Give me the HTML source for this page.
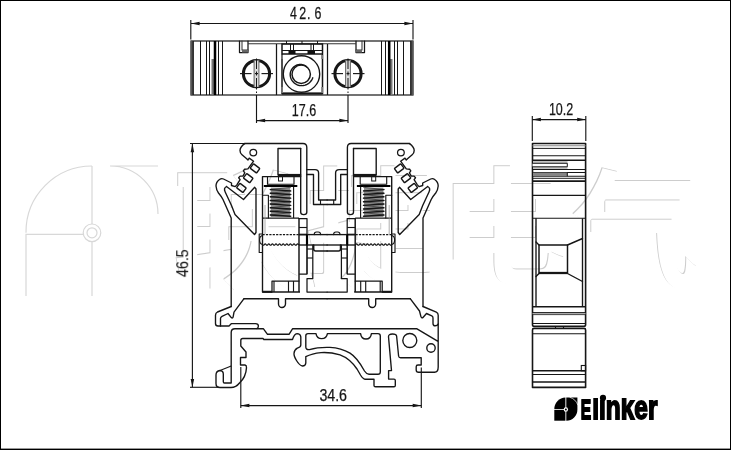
<!DOCTYPE html>
<html lang="zh"><head><meta charset="utf-8"><title>Elinker terminal block drawing</title>
<style>html,body{margin:0;padding:0;background:#fff}svg{display:block}</style></head>
<body><svg width="731" height="450" viewBox="0 0 731 450">
<rect width="731" height="450" fill="#fff"/>
<g fill="none" stroke="#d8d8d8" stroke-width="1.2">
<path d="M26,232.8 A66,66 0 0 1 92,166"/>
<path d="M92,166 V224 M92,241.6 V296"/>
<path d="M26,296 V234.3 H83.2"/>
<circle cx="92" cy="232.8" r="8.8"/><circle cx="92" cy="232.8" r="5"/>
<path d="M110,166 H158 M110,166 A48,48 0 0 1 158,214"/>
</g>
<g font-family="'Liberation Sans','Noto Sans CJK SC',sans-serif" font-size="128" font-weight="700" fill="#cdcdcd" transform="translate(0,0)">
<text x="172 305 438.5 571" y="277 275 274 277">联捷电气</text>
</g>
<g font-family="'Liberation Sans','Noto Sans CJK SC',sans-serif" font-size="128" font-weight="700" fill="#ffffff" transform="translate(1.1,1.1)">
<text x="172 305 438.5 571" y="277 275 274 277">联捷电气</text>
</g>
<rect x="191" y="41" width="222" height="54" fill="none" stroke="#161616" stroke-width="1.2" />
<rect x="191" y="41" width="2.4" height="54" fill="#555" stroke="#161616" stroke-width="0" />
<rect x="410.6" y="41" width="2.4" height="54" fill="#555" stroke="#161616" stroke-width="0" />
<line x1="193.2" y1="41" x2="193.2" y2="95" stroke="#161616" stroke-width="1.25" />
<line x1="410.8" y1="41" x2="410.8" y2="95" stroke="#161616" stroke-width="1.25" />
<line x1="200.5" y1="41" x2="200.5" y2="95" stroke="#161616" stroke-width="1.03" />
<line x1="403.5" y1="41" x2="403.5" y2="95" stroke="#161616" stroke-width="1.03" />
<line x1="206.5" y1="41" x2="206.5" y2="95" stroke="#161616" stroke-width="1.03" />
<line x1="397.5" y1="41" x2="397.5" y2="95" stroke="#161616" stroke-width="1.03" />
<line x1="209.5" y1="41" x2="209.5" y2="95" stroke="#161616" stroke-width="1.03" />
<line x1="394.5" y1="41" x2="394.5" y2="95" stroke="#161616" stroke-width="1.03" />
<line x1="218.5" y1="41" x2="218.5" y2="95" stroke="#161616" stroke-width="1.03" />
<line x1="385.5" y1="41" x2="385.5" y2="95" stroke="#161616" stroke-width="1.03" />
<line x1="222.5" y1="41" x2="222.5" y2="95" stroke="#161616" stroke-width="1.03" />
<line x1="381.5" y1="41" x2="381.5" y2="95" stroke="#161616" stroke-width="1.03" />
<rect x="211.5" y="59" width="2.7" height="36" fill="#777" stroke="#161616" stroke-width="0" />
<rect x="389.6" y="59" width="2.9" height="36" fill="#777" stroke="#161616" stroke-width="0" />
<line x1="215" y1="41" x2="215" y2="95" stroke="#000" stroke-width="2.51" />
<line x1="389.2" y1="41" x2="389.2" y2="95" stroke="#000" stroke-width="2.51" />
<path d="M239.5,41 V52.5 H248.0 V41" fill="none" stroke="#161616" stroke-width="1.25" stroke-linejoin="round" stroke-linecap="round" />
<path d="M242.0,41 V50 H248.0" fill="none" stroke="#333" stroke-width="1.03" stroke-linejoin="round" stroke-linecap="round" />
<rect x="242.0" y="50" width="6.0" height="2.5" fill="#666" stroke="#161616" stroke-width="0" />
<path d="M364.5,41 V52.5 H356.0 V41" fill="none" stroke="#161616" stroke-width="1.25" stroke-linejoin="round" stroke-linecap="round" />
<path d="M362.0,41 V50 H356.0" fill="none" stroke="#333" stroke-width="1.03" stroke-linejoin="round" stroke-linecap="round" />
<rect x="356.0" y="50" width="6.0" height="2.5" fill="#666" stroke="#161616" stroke-width="0" />
<line x1="248" y1="43.8" x2="356" y2="43.8" stroke="#333" stroke-width="1.03" />
<line x1="286.5" y1="41" x2="286.5" y2="44" stroke="#161616" stroke-width="1.03" />
<line x1="302" y1="41" x2="302" y2="44" stroke="#161616" stroke-width="1.03" />
<line x1="317.5" y1="41" x2="317.5" y2="44" stroke="#161616" stroke-width="1.03" />
<line x1="276.5" y1="44" x2="276.5" y2="95" stroke="#161616" stroke-width="1.25" />
<line x1="327.5" y1="44" x2="327.5" y2="95" stroke="#161616" stroke-width="1.25" />
<rect x="282" y="44" width="40.5" height="49.5" fill="none" stroke="#161616" stroke-width="1.5" />
<line x1="290.5" y1="44" x2="290.5" y2="50.5" stroke="#161616" stroke-width="1.03" />
<line x1="293.5" y1="44" x2="293.5" y2="50.5" stroke="#161616" stroke-width="1.03" />
<line x1="311" y1="44" x2="311" y2="50.5" stroke="#161616" stroke-width="1.03" />
<line x1="313.5" y1="44" x2="313.5" y2="50.5" stroke="#161616" stroke-width="1.03" />
<line x1="282" y1="50.5" x2="322.5" y2="50.5" stroke="#161616" stroke-width="1.03" />
<line x1="282" y1="54" x2="322.5" y2="54" stroke="#161616" stroke-width="1.71" />
<rect x="288.5" y="50.5" width="7" height="3.5" fill="#111" stroke="#161616" stroke-width="0" />
<rect x="307.5" y="50.5" width="7.5" height="3.5" fill="#111" stroke="#161616" stroke-width="0" />
<circle cx="301.5" cy="74" r="18.2" fill="none" stroke="#161616" stroke-width="1.37"/>
<circle cx="301.2" cy="74.3" r="9.2" fill="none" stroke="#161616" stroke-width="1.48"/>
<path d="M306.53,66.68 L305.91,66.20 L305.25,65.78 L304.54,65.41 L303.81,65.09 L303.04,64.84 L302.25,64.65 L301.44,64.53 L300.62,64.48 L299.79,64.49 L298.96,64.58 L298.13,64.74 L297.31,64.97 L296.52,65.26 L295.74,65.63 L294.99,66.06 L294.28,66.56 L293.61,67.12 L292.98,67.74 L292.41,68.41 L291.89,69.14 L291.43,69.91 L291.03,70.72 L290.70,71.56 L290.44,72.44 L290.26,73.34 L290.20,74.26 L290.23,75.18 L290.34,76.10 L290.52,77.00 L290.78,77.89 L291.11,78.75 L291.51,79.59 L291.97,80.39 L292.50,81.15 L293.09,81.86 L293.74,82.53 L294.44,83.14 L295.19,83.69 L295.99,84.18 L296.82,84.61 L297.69,84.97 L298.59,85.25 L299.51,85.46 L300.45,85.60 L301.40,85.65 L302.35,85.63 L303.30,85.54 L304.25,85.36 L305.18,85.11 L306.08,84.78 L306.97,84.37 L307.82,83.89 L308.63,83.34 L309.39,82.73 L310.11,82.05 L310.77,81.31 L311.37,80.51 L311.91,79.66 L312.38,78.77 L312.77,77.84" fill="none" stroke="#161616" stroke-width="1.42" stroke-linejoin="round" stroke-linecap="round" />
<line x1="282" y1="93.4" x2="322.5" y2="93.4" stroke="#161616" stroke-width="2.05" />
<rect x="281.2" y="55" width="1.8" height="4" fill="#777" stroke="#161616" stroke-width="0" />
<rect x="281.2" y="87" width="1.8" height="6" fill="#777" stroke="#161616" stroke-width="0" />
<rect x="321.3" y="55" width="1.8" height="4" fill="#777" stroke="#161616" stroke-width="0" />
<rect x="321.3" y="87" width="1.8" height="6" fill="#777" stroke="#161616" stroke-width="0" />
<circle cx="256.5" cy="73.7" r="13.1" fill="none" stroke="#161616" stroke-width="3.02"/>
<rect x="254.1" y="60.5" width="4.8" height="26.4" fill="#dcdcdc" stroke="#161616" stroke-width="0" />
<line x1="254.1" y1="60" x2="254.1" y2="87.2" stroke="#666" stroke-width="1.03" />
<line x1="258.9" y1="60" x2="258.9" y2="87.2" stroke="#666" stroke-width="1.03" />
<line x1="240.0" y1="73.6" x2="251.5" y2="73.6" stroke="#161616" stroke-width="1.14" />
<line x1="261.5" y1="73.6" x2="273.0" y2="73.6" stroke="#161616" stroke-width="1.14" />
<line x1="255.0" y1="73.6" x2="258.0" y2="73.6" stroke="#161616" stroke-width="1.14" />
<line x1="256.5" y1="58.5" x2="256.5" y2="69" stroke="#161616" stroke-width="1.03" />
<line x1="256.5" y1="71.5" x2="256.5" y2="75.5" stroke="#161616" stroke-width="1.03" />
<line x1="256.5" y1="78" x2="256.5" y2="89.5" stroke="#161616" stroke-width="1.03" />
<line x1="256.5" y1="91.5" x2="256.5" y2="93" stroke="#161616" stroke-width="1.03" />
<line x1="256.5" y1="95" x2="256.5" y2="123" stroke="#161616" stroke-width="1.14" />
<circle cx="348" cy="73.7" r="13.1" fill="none" stroke="#161616" stroke-width="3.02"/>
<rect x="345.6" y="60.5" width="4.8" height="26.4" fill="#dcdcdc" stroke="#161616" stroke-width="0" />
<line x1="345.6" y1="60" x2="345.6" y2="87.2" stroke="#666" stroke-width="1.03" />
<line x1="350.4" y1="60" x2="350.4" y2="87.2" stroke="#666" stroke-width="1.03" />
<line x1="331.5" y1="73.6" x2="343" y2="73.6" stroke="#161616" stroke-width="1.14" />
<line x1="353" y1="73.6" x2="364.5" y2="73.6" stroke="#161616" stroke-width="1.14" />
<line x1="346.5" y1="73.6" x2="349.5" y2="73.6" stroke="#161616" stroke-width="1.14" />
<line x1="348" y1="58.5" x2="348" y2="69" stroke="#161616" stroke-width="1.03" />
<line x1="348" y1="71.5" x2="348" y2="75.5" stroke="#161616" stroke-width="1.03" />
<line x1="348" y1="78" x2="348" y2="89.5" stroke="#161616" stroke-width="1.03" />
<line x1="348" y1="91.5" x2="348" y2="93" stroke="#161616" stroke-width="1.03" />
<line x1="348" y1="95" x2="348" y2="123" stroke="#161616" stroke-width="1.14" />
<line x1="190.8" y1="20" x2="190.8" y2="39.5" stroke="#161616" stroke-width="1.14" />
<line x1="413" y1="20" x2="413" y2="39.5" stroke="#161616" stroke-width="1.14" />
<line x1="191" y1="23.5" x2="413" y2="23.5" stroke="#161616" stroke-width="1.14" />
<polygon points="191,23.5 199.6,21.75 199.6,25.25" fill="#161616"/>
<polygon points="413,23.5 404.4,25.25 404.4,21.75" fill="#161616"/>
<line x1="256.5" y1="120.6" x2="348" y2="120.6" stroke="#161616" stroke-width="1.14" />
<polygon points="256.5,120.6 265.1,118.85 265.1,122.35" fill="#161616"/>
<polygon points="348,120.6 339.4,122.35 339.4,118.85" fill="#161616"/>
<line x1="192.4" y1="144" x2="192.4" y2="387.3" stroke="#161616" stroke-width="1.14" />
<polygon points="192.4,143.6 194.15,152.2 190.65,152.2" fill="#161616"/>
<polygon points="192.4,387.5 190.65,378.9 194.15,378.9" fill="#161616"/>
<line x1="190" y1="143.5" x2="245" y2="143.5" stroke="#161616" stroke-width="1.14" />
<line x1="190" y1="387.3" x2="219" y2="387.3" stroke="#161616" stroke-width="1.14" />
<line x1="240.8" y1="367" x2="240.8" y2="408" stroke="#161616" stroke-width="1.14" />
<line x1="421.3" y1="367.5" x2="421.3" y2="408" stroke="#161616" stroke-width="1.14" />
<line x1="240.8" y1="405.6" x2="421.3" y2="405.6" stroke="#161616" stroke-width="1.14" />
<polygon points="240.8,405.6 249.4,403.85 249.4,407.35" fill="#161616"/>
<polygon points="421.3,405.6 412.7,407.35 412.7,403.85" fill="#161616"/>
<line x1="532.3" y1="116" x2="532.3" y2="141" stroke="#161616" stroke-width="1.14" />
<line x1="585.8" y1="116" x2="585.8" y2="141" stroke="#161616" stroke-width="1.14" />
<line x1="532.3" y1="119.6" x2="585.8" y2="119.6" stroke="#161616" stroke-width="1.14" />
<polygon points="532.3,119.6 540.9,117.85 540.9,121.35" fill="#161616"/>
<polygon points="585.8,119.6 577.1999999999999,121.35 577.1999999999999,117.85" fill="#161616"/>
<g font-family="'Liberation Sans',sans-serif" fill="#161616" stroke="#161616" stroke-width="0.25" opacity="0.999">
<text transform="translate(289.9,18.5) scale(0.795,1)" x="0.00 11.70 21.51 30.94" y="0" font-size="15.6">42.6</text>
<text x="291.8" y="115.5" font-size="16" textLength="24.4" lengthAdjust="spacingAndGlyphs" >17.6</text>
<text x="319.4" y="400.5" font-size="16" textLength="27.6" lengthAdjust="spacingAndGlyphs" >34.6</text>
<text x="548.9" y="114.7" font-size="16" textLength="24.3" lengthAdjust="spacingAndGlyphs" >10.2</text>
<g transform="translate(188.2,277.1) rotate(-90)" stroke-width="0.1"><text x="0" y="0" font-size="16.4" textLength="27.8" lengthAdjust="spacingAndGlyphs" >46.5</text></g>
</g>
<g id="hf"><path d="M244.5,143.5 H303 Q306.8,143.5 306.8,147.5 V212.3 Q306.8,214.6 303.8,214.6 Q300.7,214.6 300.7,212.3 V148.5" fill="none" stroke="#161616" stroke-width="1.37" stroke-linejoin="round" stroke-linecap="round" />
<path d="M306.8,169.6 H315 Q318.6,169.6 318.6,173 V200 H327.1" fill="none" stroke="#161616" stroke-width="1.37" stroke-linejoin="round" stroke-linecap="round" />
<path d="M306.8,174.5 H313.5 V204.5 H327.1" fill="none" stroke="#161616" stroke-width="1.37" stroke-linejoin="round" stroke-linecap="round" />
<line x1="320.5" y1="200" x2="320.5" y2="204.5" stroke="#161616" stroke-width="1.14" />
<path d="M300.7,148.5 H278 V175 H300.7" fill="none" stroke="#161616" stroke-width="1.37" stroke-linejoin="round" stroke-linecap="round" />
<line x1="278" y1="175" x2="300.7" y2="175" stroke="#161616" stroke-width="2.17" />
<path d="M300.7,176.6 H262.5 V292" fill="none" stroke="#161616" stroke-width="1.37" stroke-linejoin="round" stroke-linecap="round" />
<path d="M267.5,176.6 V184.2 H294 V176.6" fill="none" stroke="#161616" stroke-width="1.14" stroke-linejoin="round" stroke-linecap="round" />
<path d="M262.5,195.3 H268.4 V218" fill="none" stroke="#161616" stroke-width="1.14" stroke-linejoin="round" stroke-linecap="round" />
<rect x="278.5" y="176.6" width="4" height="4.4" fill="none" stroke="#161616" stroke-width="1.0" />
<line x1="293.6" y1="187" x2="293.6" y2="218" stroke="#161616" stroke-width="1.14" />
<line x1="262.5" y1="218" x2="299" y2="218" stroke="#161616" stroke-width="1.25" />
<line x1="265" y1="205" x2="265" y2="234" stroke="#999" stroke-width="0.8" />
<line x1="263.8" y1="186" x2="297.3" y2="186" stroke="#000" stroke-width="1.99" />
<rect x="270.8" y="187.6" width="19.4" height="30.2" fill="#8c8c8c" stroke="#161616" stroke-width="0" />
<line x1="290.6" y1="187.30" x2="270.4" y2="189.60" stroke="#4a4a4a" stroke-width="0.9" stroke-linecap="round"/>
<line x1="290.6" y1="190.92" x2="270.4" y2="193.22" stroke="#4a4a4a" stroke-width="0.9" stroke-linecap="round"/>
<line x1="290.6" y1="194.54" x2="270.4" y2="196.84" stroke="#4a4a4a" stroke-width="0.9" stroke-linecap="round"/>
<line x1="290.6" y1="198.16" x2="270.4" y2="200.46" stroke="#4a4a4a" stroke-width="0.9" stroke-linecap="round"/>
<line x1="290.6" y1="201.78" x2="270.4" y2="204.08" stroke="#4a4a4a" stroke-width="0.9" stroke-linecap="round"/>
<line x1="290.6" y1="205.40" x2="270.4" y2="207.70" stroke="#4a4a4a" stroke-width="0.9" stroke-linecap="round"/>
<line x1="290.6" y1="209.02" x2="270.4" y2="211.32" stroke="#4a4a4a" stroke-width="0.9" stroke-linecap="round"/>
<line x1="290.6" y1="212.64" x2="270.4" y2="214.94" stroke="#4a4a4a" stroke-width="0.9" stroke-linecap="round"/>
<line x1="270.3" y1="189.60" x2="290.7" y2="190.90" stroke="#161616" stroke-width="1.45" stroke-linecap="round"/>
<line x1="270.3" y1="193.22" x2="290.7" y2="194.52" stroke="#161616" stroke-width="1.45" stroke-linecap="round"/>
<line x1="270.3" y1="196.84" x2="290.7" y2="198.14" stroke="#161616" stroke-width="1.45" stroke-linecap="round"/>
<line x1="270.3" y1="200.46" x2="290.7" y2="201.76" stroke="#161616" stroke-width="1.45" stroke-linecap="round"/>
<line x1="270.3" y1="204.08" x2="290.7" y2="205.38" stroke="#161616" stroke-width="1.45" stroke-linecap="round"/>
<line x1="270.3" y1="207.70" x2="290.7" y2="209.00" stroke="#161616" stroke-width="1.45" stroke-linecap="round"/>
<line x1="270.3" y1="211.32" x2="290.7" y2="212.62" stroke="#161616" stroke-width="1.45" stroke-linecap="round"/>
<line x1="270.3" y1="214.94" x2="290.7" y2="216.24" stroke="#161616" stroke-width="1.45" stroke-linecap="round"/>
<line x1="299" y1="218" x2="299" y2="292" stroke="#161616" stroke-width="1.48" />
<path d="M299,218.6 H307 V274 H299.5" fill="none" stroke="#161616" stroke-width="1.25" stroke-linejoin="round" stroke-linecap="round" />
<line x1="299" y1="227.5" x2="307" y2="227.5" stroke="#161616" stroke-width="1.14" />
<line x1="299" y1="234.6" x2="307" y2="234.6" stroke="#161616" stroke-width="1.82" />
<line x1="299" y1="245" x2="307" y2="245" stroke="#161616" stroke-width="1.37" />
<line x1="307" y1="234" x2="307" y2="245.5" stroke="#000" stroke-width="2.17" />
<line x1="262.5" y1="234.6" x2="299" y2="234.6" stroke="#161616" stroke-width="1.14" stroke-dasharray="2.2 1.2"/>
<path d="M262.5,244.6 q0.9,1.4 1.8,0 t1.8,0 q0.9,1.4 1.8,0 t1.8,0 q0.9,1.4 1.8,0 t1.8,0 q0.9,1.4 1.8,0 t1.8,0 q0.9,1.4 1.8,0 t1.8,0 q0.9,1.4 1.8,0 t1.8,0 q0.9,1.4 1.8,0 t1.8,0 q0.9,1.4 1.8,0 t1.8,0 q0.9,1.4 1.8,0 t1.8,0 q0.9,1.4 1.8,0 t1.8,0 " fill="none" stroke="#161616" stroke-width="1.08" stroke-linejoin="round" stroke-linecap="round" />
<path d="M262.5,234 H259.2 V252.5 H262.5" fill="none" stroke="#161616" stroke-width="1.14" stroke-linejoin="round" stroke-linecap="round" />
<path d="M262.5,235.5 Q259.6,236 259.6,240 Q259.6,244 262.5,244.4" fill="none" stroke="#161616" stroke-width="1.14" stroke-linejoin="round" stroke-linecap="round" />
<line x1="307" y1="234.6" x2="327.6" y2="234.6" stroke="#161616" stroke-width="1.37" />
<line x1="307" y1="245" x2="327.6" y2="245" stroke="#161616" stroke-width="1.37" />
<path d="M314.2,234.6 Q314.2,232 316.5,232 H318.3 Q320.6,232 320.6,234.6" fill="none" stroke="#161616" stroke-width="1.14" stroke-linejoin="round" stroke-linecap="round" />
<path d="M313.7,245 V249 Q313.7,251 315.7,251 H327.1" fill="none" stroke="#161616" stroke-width="1.48" stroke-linejoin="round" stroke-linecap="round" />
<path d="M312.8,245 V278.5 H307 V292 H327.1" fill="none" stroke="#161616" stroke-width="1.25" stroke-linejoin="round" stroke-linecap="round" />
<line x1="307" y1="245" x2="307" y2="274" stroke="#161616" stroke-width="1.03" />
<line x1="307" y1="249" x2="312.8" y2="249" stroke="#161616" stroke-width="1.14" />
<line x1="307" y1="258" x2="312.8" y2="258" stroke="#161616" stroke-width="1.14" />
<line x1="262.5" y1="292" x2="300" y2="292" stroke="#161616" stroke-width="1.37" />
<line x1="262.5" y1="291.8" x2="272" y2="291.8" stroke="#161616" stroke-width="2.05" />
<path d="M272,292 V281 H299" fill="none" stroke="#161616" stroke-width="1.25" stroke-linejoin="round" stroke-linecap="round" />
<line x1="274" y1="281" x2="274" y2="292" stroke="#161616" stroke-width="1.14" />
<line x1="288.5" y1="281" x2="288.5" y2="292" stroke="#161616" stroke-width="1.14" />
<line x1="293.5" y1="281" x2="293.5" y2="292" stroke="#161616" stroke-width="1.14" />
<path d="M244.7,143.6 C242,145.5 240,148 240,150.6 C240,152.8 240.8,153.8 242,154.8 L246.7,158.7 L248,160 L249.2,158.1 L253.6,161.2 L247.9,168.9 L244.6,169.2 L243.4,170.8 L244.8,172.8 L242.9,176.1 L240.1,176.1 L238.7,177.8 L240.1,179.7 L237,184.6 L235.2,186.6 L231.5,185.5 V183 L223.5,179 Q221.5,178 219.5,179.5 Q216,182 216,186 Q216.3,190 218.5,193 Q221.5,196.5 223,199.5 L231.2,218 V306.5" fill="none" stroke="#161616" stroke-width="1.37" stroke-linejoin="round" stroke-linecap="round" />
<circle cx="253.3" cy="152.6" r="3.35" fill="none" stroke="#161616" stroke-width="1.25"/>
<rect x="-4.00" y="-2.80" width="8" height="5.6" rx="0.7" transform="translate(255.00,168.40) rotate(37)" fill="none" stroke="#161616" stroke-width="1.4"/>
<rect x="-4.00" y="-2.80" width="8" height="5.6" rx="0.7" transform="translate(248.20,178.15) rotate(37)" fill="none" stroke="#161616" stroke-width="1.4"/>
<rect x="-4.00" y="-2.80" width="8" height="5.6" rx="0.7" transform="translate(241.40,187.90) rotate(37)" fill="none" stroke="#161616" stroke-width="1.4"/>
<path d="M226.5,186.5 L243.5,199.5 L254.7,187.3 L256,189 V232.5 L254.5,234.5 L235,214.5 L231.5,205.5 L225.2,192 Q223.3,188.2 226.5,186.5" fill="none" stroke="#161616" stroke-width="1.37" stroke-linejoin="round" stroke-linecap="round" />
<path d="M244,298.7 H278.5 V304 A3.5,3.5 0 0 0 285.5,304 V298.7 H327.1" fill="none" stroke="#161616" stroke-width="1.37" stroke-linejoin="round" stroke-linecap="round" /></g>
<use href="#hf" transform="translate(654.2,0) scale(-1,1)"/>
<path d="M231.2,306.5 L217.5,312 Q215.5,313 215.5,315.2 V323.5 Q215.5,326 218,326 H229 L231.5,323.6 H255.5 Q258.4,323.6 258.4,326 Q258.4,328 256.8,328.6" fill="none" stroke="#161616" stroke-width="1.37" stroke-linejoin="round" stroke-linecap="round" />
<path d="M220.5,326 V318.6 Q220.5,317 222,316.3 L228,313.5 L231.3,317.6 Q232.6,318.8 233.2,316.6 L234,312.2 L244,298.7" fill="none" stroke="#161616" stroke-width="1.37" stroke-linejoin="round" stroke-linecap="round" />
<path d="M423,306.5 L436.3,312.1 Q438.2,313 438.2,315.2 V367 Q438.2,372.2 434.5,372.2 H418.6 Q416.2,372.2 416.2,370 V366.8 Q416.2,365 418,365 H421.2 V357.8 H400.6 Q398.8,357.8 398.6,356 L396.6,336 Q396.3,334 392.5,334 Q388.3,334 388.5,336.8 L391.5,370.6 H388.6 V379.1 H394 Q395.3,379.1 395.3,380.6 V385.4 Q395.3,386.8 394,386.8 H375.5 Q374,386.8 374,385.4 V379.2 H365 Q363,379 360.5,375 L357,369 Q350,358.5 340,354.8 Q330,352 321,352.6 Q312,353.5 305.8,356.6 V363 Q305.6,366 302.5,366 Q299.5,365.5 296.5,360.5 Q293.8,356 294,353.5 Q294.2,350 297.3,348.2 Q300.8,347 300.8,345 V336.8 Q300.3,333.6 297,333.6 Q294.2,334 292.5,339.5 H263.8 L263,338.5 H242.8 Q240.8,338.5 240.8,340.5 V346 L246,352 V357.5 H240.5 V365 H245 Q246.6,365.3 246.5,367.6 Q246,377 239.5,383 Q236,387.5 231,387.5 H220 Q216,387.5 216,383.5 V375 Q216,371 220,370.5 Q223.3,370.8 223.3,374 V381.8 Q223.3,383 224.5,383 H231.2 V332.6 Q231.2,328.8 235,328.8 H263.5 L267.5,334.3 H289 L292.5,328.8 H417 L438,341.3" fill="none" stroke="#161616" stroke-width="1.37" stroke-linejoin="round" stroke-linecap="round" />
<line x1="220" y1="370.5" x2="231.2" y2="366" stroke="#161616" stroke-width="1.25" />
<path d="M410.2,298.7 L419.5,311 L420.8,316.2 Q421.8,318.8 423.2,317.2 L426.5,313.5 L431.8,315.8 Q433,316.4 433,318 V323.4 Q433,325.8 435.2,325.8 Q437.4,325.8 438.2,324" fill="none" stroke="#161616" stroke-width="1.37" stroke-linejoin="round" stroke-linecap="round" />
<path d="M308,333.6 H316 Q316.8,338.6 321.6,338.6 Q326.6,338.6 327.4,333.6 H360.6 Q361.2,339 366,339 Q370.8,339 371.4,333.6 H378 Q380.3,333.6 380.3,336 V372 Q380.3,374.2 378,374.2 H369 Q366.3,374 364.5,371 Q357,357.5 350,353.2 Q341,348 330,347.4 Q318,347 309.5,349.6 Q305.8,350 305.8,347 V335.8 Q305.8,333.6 308,333.6 Z" fill="none" stroke="#161616" stroke-width="1.37" stroke-linejoin="round" stroke-linecap="round" />
<circle cx="409.8" cy="340.5" r="7" fill="none" stroke="#161616" stroke-width="1.37"/>
<circle cx="431" cy="348" r="4.2" fill="none" stroke="#161616" stroke-width="1.37"/>
<path d="M532.5,143.5 H585.6 V324.5 Q585.6,326.3 584,326.3 H534 Q532.5,326.3 532.5,324.5 Z" fill="none" stroke="#161616" stroke-width="1.6" stroke-linejoin="round" stroke-linecap="round" />
<path d="M534,328.4 H584 Q585.6,328.4 585.6,330 V387.4 H532.5 V330 Q532.5,328.4 534,328.4 Z" fill="none" stroke="#161616" stroke-width="1.6" stroke-linejoin="round" stroke-linecap="round" />
<line x1="555.5" y1="326.3" x2="555.5" y2="328.4" stroke="#161616" stroke-width="1.14" />
<line x1="563.5" y1="326.3" x2="563.5" y2="328.4" stroke="#161616" stroke-width="1.14" />
<line x1="532.5" y1="145.7" x2="585.6" y2="145.7" stroke="#888" stroke-width="1.03" />
<rect x="533" y="160.8" width="34.5" height="8.4" fill="#c4c4c4" stroke="#161616" stroke-width="0" />
<line x1="532.5" y1="148.4" x2="585.6" y2="148.4" stroke="#161616" stroke-width="0.97" />
<line x1="532.5" y1="155.8" x2="585.6" y2="155.8" stroke="#161616" stroke-width="1.14" />
<line x1="532.5" y1="160.2" x2="585.6" y2="160.2" stroke="#161616" stroke-width="1.54" />
<line x1="532.5" y1="169.4" x2="585.6" y2="169.4" stroke="#161616" stroke-width="1.03" />
<line x1="532.5" y1="172.4" x2="585.6" y2="172.4" stroke="#161616" stroke-width="1.03" />
<line x1="532.5" y1="176.3" x2="585.6" y2="176.3" stroke="#161616" stroke-width="1.03" />
<line x1="532.5" y1="178.3" x2="585.6" y2="178.3" stroke="#161616" stroke-width="0.97" />
<line x1="532.5" y1="181.1" x2="585.6" y2="181.1" stroke="#161616" stroke-width="1.6" />
<line x1="532.5" y1="195.4" x2="585.6" y2="195.4" stroke="#161616" stroke-width="1.08" />
<line x1="532.5" y1="218.3" x2="585.6" y2="218.3" stroke="#161616" stroke-width="1.14" />
<line x1="532.5" y1="306.8" x2="585.6" y2="306.8" stroke="#161616" stroke-width="1.37" />
<line x1="532.5" y1="312.5" x2="585.6" y2="312.5" stroke="#161616" stroke-width="0.91" />
<line x1="532.5" y1="314.6" x2="585.6" y2="314.6" stroke="#161616" stroke-width="0.91" />
<line x1="532.5" y1="323.5" x2="585.6" y2="323.5" stroke="#161616" stroke-width="1.08" />
<line x1="532.5" y1="333.8" x2="585.6" y2="333.8" stroke="#161616" stroke-width="1.08" />
<line x1="532.5" y1="370.8" x2="585.6" y2="370.8" stroke="#161616" stroke-width="1.37" />
<line x1="532.5" y1="374.5" x2="585.6" y2="374.5" stroke="#161616" stroke-width="1.03" />
<line x1="532.5" y1="382" x2="585.6" y2="382" stroke="#161616" stroke-width="1.37" />
<rect x="532.5" y="313" width="53" height="1.2" fill="#aaa" stroke="#161616" stroke-width="0" />
<path d="M532.5,163.3 H567.3 V166.8 H532.5" fill="#fff" stroke="#161616" stroke-width="0.97" stroke-linejoin="round" stroke-linecap="round" />
<rect x="533" y="172.6" width="34.3" height="3.5" fill="#858585" stroke="#161616" stroke-width="0" />
<line x1="567.3" y1="172.4" x2="567.3" y2="176.3" stroke="#161616" stroke-width="1.03" />
<line x1="536" y1="218.3" x2="536" y2="306.8" stroke="#161616" stroke-width="1.37" />
<line x1="582.5" y1="218.3" x2="582.5" y2="306.8" stroke="#161616" stroke-width="1.37" />
<path d="M536,242 L539,245 H567.5 L582.5,238.5" fill="none" stroke="#161616" stroke-width="1.37" stroke-linejoin="round" stroke-linecap="round" />
<path d="M539,245 V273 M567.5,245 V273" fill="none" stroke="#161616" stroke-width="1.48" stroke-linejoin="round" stroke-linecap="round" />
<line x1="539" y1="273" x2="567.5" y2="273" stroke="#161616" stroke-width="2.28" />
<path d="M539,273.5 L536,276.5 M567.5,273.5 L582.5,281.5" fill="none" stroke="#161616" stroke-width="1.37" stroke-linejoin="round" stroke-linecap="round" />
<rect x="581.3" y="365.5" width="4.3" height="5.3" fill="none" stroke="#161616" stroke-width="1.1" />
<path d="M554.3,409.1 A11.4,11.5 0 0 1 565.4,397.6 V409.1 Z" fill="#000"/>
<rect x="554.3" y="409.8" width="11.1" height="10.9" fill="#000"/>
<path d="M566.3,397.6 H577.4 V409.4 A11.1,11.3 0 0 1 566.3,420.7 Z" fill="#000"/>
<path d="M569.6,397.2 A12.6,12.6 0 0 1 577.9,405.2" fill="none" stroke="#fff" stroke-width="0.7"/>
<circle cx="565.85" cy="409.45" r="2.2" fill="#fff"/>
<circle cx="565.85" cy="409.45" r="1.0" fill="#000"/>
<clipPath id="lc"><rect x="575" y="398.1" width="90" height="30"/></clipPath>
<g clip-path="url(#lc)"><text x="580.75" y="419.4" font-family="'Liberation Sans',sans-serif" font-weight="700" fill="#000" stroke="#000" stroke-width="1.8" stroke-linejoin="miter"><tspan font-size="28" textLength="10.4" lengthAdjust="spacingAndGlyphs">E</tspan><tspan font-size="32.4" dx="1.1" textLength="65.2" lengthAdjust="spacingAndGlyphs">linker</tspan></text></g>
<circle cx="603.0" cy="397.9" r="3.1" fill="#000"/>
<rect x="0.5" y="0.5" width="730" height="449" fill="none" stroke="#000" stroke-width="1"/>
<rect x="0" y="448.6" width="731" height="1.4" fill="#000"/>
</svg></body></html>
